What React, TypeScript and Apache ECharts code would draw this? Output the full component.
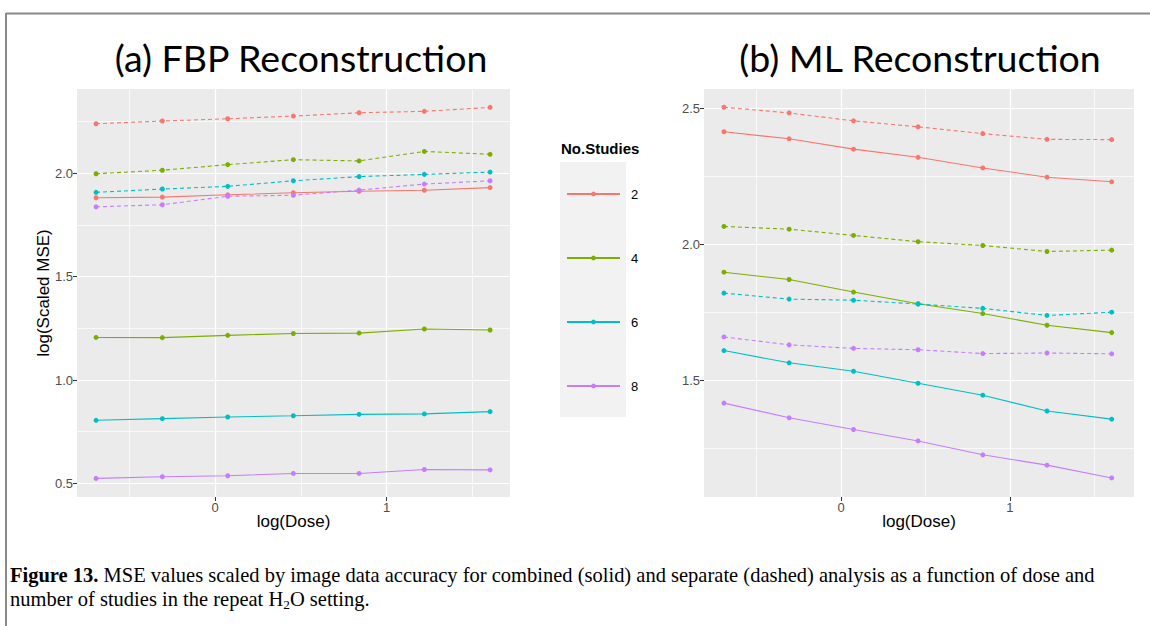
import React, { useEffect, useRef } from "react";
import * as echarts from "echarts";

const doseX = [-0.693, -0.307, 0.074, 0.456, 0.839, 1.219, 1.602];
const studyLabels = ["2", "4", "6", "8"];
const studyColors = ["#F8766D", "#7CAE00", "#00BFC4", "#C77CFF"];

const fbpCombined2 = [1.882, 1.885, 1.896, 1.906, 1.913, 1.918, 1.931];
const fbpCombined4 = [1.206, 1.205, 1.216, 1.225, 1.227, 1.247, 1.242];
const fbpCombined6 = [0.805, 0.813, 0.821, 0.827, 0.834, 0.836, 0.847];
const fbpCombined8 = [0.524, 0.532, 0.537, 0.548, 0.548, 0.567, 0.565];
const fbpSeparate2 = [2.24, 2.253, 2.264, 2.277, 2.293, 2.3, 2.319];
const fbpSeparate4 = [1.998, 2.015, 2.042, 2.066, 2.06, 2.106, 2.092];
const fbpSeparate6 = [1.908, 1.924, 1.937, 1.964, 1.984, 1.995, 2.006];
const fbpSeparate8 = [1.838, 1.848, 1.889, 1.894, 1.919, 1.948, 1.964];

const mlCombined2 = [2.414, 2.388, 2.35, 2.32, 2.281, 2.247, 2.23];
const mlCombined4 = [1.898, 1.871, 1.825, 1.782, 1.746, 1.703, 1.676];
const mlCombined6 = [1.61, 1.565, 1.534, 1.49, 1.446, 1.388, 1.358];
const mlCombined8 = [1.417, 1.363, 1.32, 1.278, 1.227, 1.189, 1.142];
const mlSeparate2 = [2.504, 2.483, 2.454, 2.432, 2.407, 2.386, 2.385];
const mlSeparate4 = [2.066, 2.056, 2.033, 2.01, 1.996, 1.974, 1.979];
const mlSeparate6 = [1.821, 1.799, 1.795, 1.781, 1.765, 1.739, 1.751];
const mlSeparate8 = [1.66, 1.631, 1.618, 1.613, 1.599, 1.601, 1.598];

const xMajorTicks = [0, 1];
const xMinorTicks = [-0.5, 0.5, 1.5];
const fbpYMajor = [0.5, 1.0, 1.5, 2.0];
const fbpYMinor = [0.75, 1.25, 1.75, 2.25];
const mlYMajor = [1.5, 2.0, 2.5];
const mlYMinor = [1.25, 1.75, 2.25];

const panelTitles = ["(a) FBP Reconstruction", "(b) ML Reconstruction"];

const fbpCombined = [fbpCombined2, fbpCombined4, fbpCombined6, fbpCombined8];
const fbpSeparate = [fbpSeparate2, fbpSeparate4, fbpSeparate6, fbpSeparate8];
const mlCombined = [mlCombined2, mlCombined4, mlCombined6, mlCombined8];
const mlSeparate = [mlSeparate2, mlSeparate4, mlSeparate6, mlSeparate8];

const TICK_COLOR = "#4d4d4d";
const LABEL_FONT = "Liberation Sans";

function majorAxis(kind: "x" | "y", gridIndex: number, min: number, max: number, ticks: number[], name?: string) {
  const ax: any = {
    type: "value",
    gridIndex,
    min,
    max,
    position: kind === "x" ? "bottom" : "left",
    axisLine: { show: false, onZero: false },
    axisTick: { show: true, customValues: ticks, length: 4, lineStyle: { color: "#333", width: 1 } },
    axisLabel: {
      show: true,
      customValues: ticks,
      color: TICK_COLOR,
      fontSize: 13,
      fontFamily: LABEL_FONT,
      margin: 4,
      formatter: (v: number) => (kind === "x" ? String(Math.round(v)) : v.toFixed(1)),
    },
    splitLine: { show: true, lineStyle: { color: "#ffffff", width: 1.2 } },
  };
  if (name) {
    ax.name = name;
    ax.nameLocation = "middle";
    ax.nameGap = 16;
    ax.nameMoveOverlap = false;
    ax.nameTextStyle = { color: "#000", fontSize: 17, fontFamily: LABEL_FONT };
  }
  return ax;
}

function minorAxis(kind: "x" | "y", gridIndex: number, min: number, max: number, ticks: number[]) {
  return {
    type: "value",
    gridIndex,
    min,
    max,
    position: kind === "x" ? "bottom" : "left",
    axisLine: { show: false, onZero: false },
    axisTick: { show: false, customValues: ticks },
    axisLabel: { show: false, customValues: ticks },
    splitLine: { show: true, lineStyle: { color: "#ffffff", width: 0.7 } },
  };
}

function buildSeries(combined: number[][], separate: number[][], xAxisIndex: number, yAxisIndex: number) {
  const out: any[] = [];
  combined.forEach((vals, i) => {
    out.push({
      type: "line",
      name: studyLabels[i],
      xAxisIndex,
      yAxisIndex,
      data: doseX.map((x, j) => [x, vals[j]]),
      symbol: "circle",
      symbolSize: 5,
      showSymbol: true,
      itemStyle: { color: studyColors[i] },
      lineStyle: { color: studyColors[i], width: 1.1, type: "solid" },
      z: 3,
    });
  });
  separate.forEach((vals, i) => {
    out.push({
      type: "line",
      name: studyLabels[i],
      xAxisIndex,
      yAxisIndex,
      data: doseX.map((x, j) => [x, vals[j]]),
      symbol: "circle",
      symbolSize: 5,
      showSymbol: true,
      itemStyle: { color: studyColors[i] },
      lineStyle: { color: studyColors[i], width: 1.1, type: [4, 3] },
      z: 3,
    });
  });
  return out;
}

export default function App() {
  const ref = useRef<HTMLDivElement>(null);
  useEffect(() => {
    if (!ref.current) return;
    const chart = echarts.init(ref.current, null, { renderer: "svg" });
    const option: any = {
      animation: false,
      backgroundColor: "#ffffff",
      grid: [
        { left: 77, top: 89, width: 433, height: 408, show: true, backgroundColor: "#ebebeb", borderWidth: 0 },
        { left: 704, top: 89, width: 430, height: 408, show: true, backgroundColor: "#ebebeb", borderWidth: 0 },
      ],
      xAxis: [
        majorAxis("x", 0, -0.804, 1.718, xMajorTicks, "log(Dose)"),
        minorAxis("x", 0, -0.804, 1.718, xMinorTicks),
        majorAxis("x", 1, -0.811, 1.734, xMajorTicks, "log(Dose)"),
        minorAxis("x", 1, -0.811, 1.734, xMinorTicks),
      ],
      yAxis: [
        majorAxis("y", 0, 0.434, 2.408, fbpYMajor),
        minorAxis("y", 0, 0.434, 2.408, fbpYMinor),
        majorAxis("y", 1, 1.072, 2.571, mlYMajor),
        minorAxis("y", 1, 1.072, 2.571, mlYMinor),
      ],
      legend: {
        data: studyLabels,
        orient: "vertical",
        left: 566,
        top: 186,
        padding: 0,
        itemWidth: 53,
        itemHeight: 6,
        itemGap: 48,
        z: 10,
        textStyle: { color: "#000", fontSize: 13, lineHeight: 16, fontFamily: LABEL_FONT, padding: [0, 0, 0, 6] },
      },
      series: [
        ...buildSeries(fbpCombined, fbpSeparate, 0, 0),
        ...buildSeries(mlCombined, mlSeparate, 2, 2),
      ],
      graphic: [
        { type: "line", shape: { x1: 6, y1: 13.5, x2: 1150, y2: 13.5 }, style: { stroke: "#8a8a8a", lineWidth: 2 } },
        { type: "line", shape: { x1: 6, y1: 13, x2: 6, y2: 626 }, style: { stroke: "#8a8a8a", lineWidth: 2 } },
        {
          type: "text",
          x: 301,
          y: 57,
          style: { text: panelTitles[0], font: "37.5px Lato", fill: "#000", align: "center", verticalAlign: "middle" },
        },
        {
          type: "text",
          x: 920,
          y: 57,
          style: { text: panelTitles[1], font: "37.5px Lato", fill: "#000", align: "center", verticalAlign: "middle" },
        },
        {
          type: "text",
          x: 43,
          y: 293,
          rotation: Math.PI / 2,
          style: { text: "log(Scaled MSE)", font: "17px 'Liberation Sans'", fill: "#000", align: "center", verticalAlign: "middle" },
        },
        {
          type: "text",
          x: 561,
          y: 148,
          style: { text: "No.Studies", font: "bold 15px 'Liberation Sans'", fill: "#000", align: "left", verticalAlign: "middle" },
        },
        { type: "rect", z: 0, shape: { x: 560, y: 162, width: 66, height: 255 }, style: { fill: "#f2f2f2" } },
        {
          type: "text",
          x: 10,
          y: 563,
          scaleX: 1.025,
          style: {
            text:
              "{b|Figure 13.} MSE values scaled by image data accuracy for combined (solid) and separate (dashed) analysis as a function of dose and\nnumber of studies in the repeat H{sub|2}O setting.",
            font: "20px 'Liberation Serif'",
            fill: "#000",
            lineHeight: 24,
            rich: {
              b: { fontWeight: "bold", fontSize: 20, fontFamily: "Liberation Serif", fill: "#000" },
              sub: { fontSize: 13, fontFamily: "Liberation Serif", verticalAlign: "bottom", padding: [9, 0, 0, 0] },
            },
          },
        },
      ],
    };
    chart.setOption(option);
    return () => chart.dispose();
  }, []);
  return <div ref={ref} style={{ position: "absolute", left: 0, top: 0, width: 1150, height: 626 }} />;
}
